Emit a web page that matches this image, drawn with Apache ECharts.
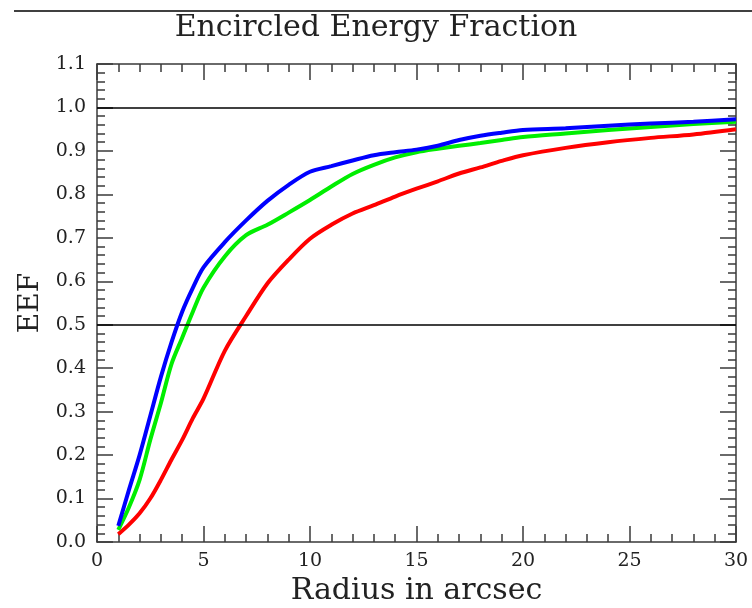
<!DOCTYPE html>
<html><head><meta charset="utf-8">
<script src="https://cdn.jsdelivr.net/npm/echarts@6/dist/echarts.min.js"></script>
<style>html,body{margin:0;padding:0;background:#fff}#c{width:752px;height:608px}</style>
</head><body><div id="c"></div>
<script>
const radius = [1, 1.5, 2, 2.5, 3, 3.5, 4, 4.5, 5, 6, 7, 8, 9, 10, 11, 12, 13, 14, 15, 16, 17, 18, 19, 20, 22, 24, 26, 28, 30];
const blueEEF  = [0.037, 0.12, 0.2, 0.29, 0.38, 0.46, 0.53, 0.585, 0.632, 0.69, 0.74, 0.785, 0.822, 0.852, 0.865, 0.878, 0.89, 0.897, 0.903, 0.912, 0.925, 0.935, 0.942, 0.948, 0.952, 0.958, 0.963, 0.967, 0.973];
const greenEEF = [0.028, 0.08, 0.143, 0.235, 0.32, 0.41, 0.47, 0.53, 0.585, 0.657, 0.706, 0.73, 0.758, 0.787, 0.818, 0.847, 0.868, 0.885, 0.897, 0.905, 0.912, 0.918, 0.925, 0.932, 0.94, 0.948, 0.955, 0.962, 0.967];
const redEEF   = [0.018, 0.04, 0.066, 0.1, 0.143, 0.19, 0.235, 0.285, 0.33, 0.44, 0.52, 0.595, 0.65, 0.698, 0.73, 0.756, 0.775, 0.795, 0.813, 0.83, 0.848, 0.862, 0.877, 0.89, 0.907, 0.92, 0.93, 0.938, 0.95];
const refLines = [1.0, 0.5];
const titleText = 'Encircled Energy Fraction';
const xName = 'Radius in arcsec';
const yName = 'EEF';

const font = 'DejaVu Serif';
const axisColor = '#3a3a3a';
function pairs(ys){ return radius.map((r,i)=>[r, ys[i]]); }
function axisBase(show){
  return {
    axisLine:{show:true, onZero:false, lineStyle:{color:axisColor, width:1.5}},
    axisTick:{show:true, inside:true, length:16, lineStyle:{color:axisColor, width:1.5}},
    minorTick:{show:true, splitNumber:5, length:8, lineStyle:{color:axisColor, width:1.5}},
    splitLine:{show:false},
    axisLabel:{show:show, fontFamily:font, fontSize:19, color:'#222', margin:10}
  };
}
const chart = echarts.init(document.getElementById('c'), null, {renderer:'canvas'});
chart.setOption({
  animation:false,
  backgroundColor:'#fff',
  title:{text:titleText, left:'center', top:8, textStyle:{fontFamily:font, fontSize:30, fontWeight:'normal', color:'#222'}},
  graphic:[{type:'line', shape:{x1:14, y1:11, x2:752, y2:11}, style:{stroke:'#000', lineWidth:1.5}}],
  grid:{left:97, top:64, right:16, bottom:66, outerBoundsMode:'none', containLabel:false},
  xAxis:[
    Object.assign(axisBase(true), {type:'value', min:0, max:30, interval:5, position:'bottom',
      name:xName, nameLocation:'middle', nameGap:33, nameTextStyle:{fontFamily:font, fontSize:30, color:'#222'},
      axisLabel:{show:true, fontFamily:font, fontSize:19, color:'#222', margin:10, showMaxLabel:true}}),
    Object.assign(axisBase(false), {type:'value', min:0, max:30, interval:5, position:'top'})
  ],
  yAxis:[
    Object.assign(axisBase(true), {type:'value', min:0, max:1.1, interval:0.1, position:'left',
      name:yName, nameLocation:'middle', nameGap:52, nameRotate:90, nameTextStyle:{fontFamily:font, fontSize:28, color:'#222'},
      axisLabel:{show:true, fontFamily:font, fontSize:19, color:'#222', margin:11, formatter:v=>v.toFixed(1)}}),
    Object.assign(axisBase(false), {type:'value', min:0, max:1.1, interval:0.1, position:'right'})
  ],
  series:[
    {type:'line', name:'red', data:pairs(redEEF), symbol:'none', smooth:0.3, lineStyle:{color:'#ff0000', width:4}, z:3,
     markLine:{silent:true, symbol:'none', label:{show:false}, lineStyle:{color:'#000', width:1.5, type:'solid'},
       data:refLines.map(v=>({yAxis:v}))}},
    {type:'line', name:'green', data:pairs(greenEEF), symbol:'none', smooth:0.3, lineStyle:{color:'#00ee00', width:4}, z:4},
    {type:'line', name:'blue', data:pairs(blueEEF), symbol:'none', smooth:0.3, lineStyle:{color:'#0000ff', width:4}, z:5}
  ]
});
</script></body></html>
